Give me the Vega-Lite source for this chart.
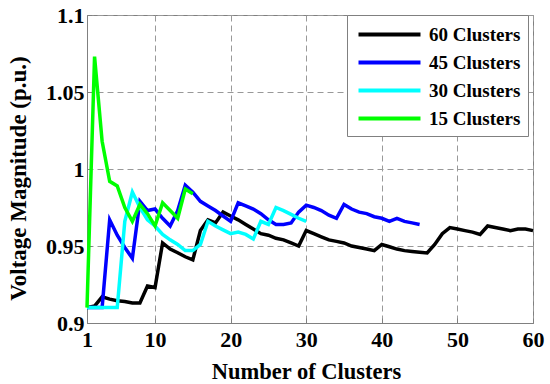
{
  "$schema": "https://vega.github.io/schema/vega-lite/v6.json",
  "autosize": {"type": "none"},
  "width": 446,
  "height": 308,
  "padding": {"left": 87, "top": 15, "right": 17, "bottom": 61},
  "background": "white",
  "config": {"view": {"stroke": "#808080", "strokeWidth": 1}, "font": "Liberation Serif"},
  "data": {"values": [
    {"x":1,"v":0.910,"s":"60 Clusters"},{"x":2,"v":0.911,"s":"60 Clusters"},{"x":3,"v":0.917,"s":"60 Clusters"},{"x":4,"v":0.9155,"s":"60 Clusters"},{"x":5,"v":0.9145,"s":"60 Clusters"},{"x":6,"v":0.914,"s":"60 Clusters"},{"x":7,"v":0.913,"s":"60 Clusters"},{"x":8,"v":0.913,"s":"60 Clusters"},{"x":9,"v":0.924,"s":"60 Clusters"},{"x":10,"v":0.923,"s":"60 Clusters"},
    {"x":11,"v":0.952,"s":"60 Clusters"},{"x":12,"v":0.948,"s":"60 Clusters"},{"x":13,"v":0.9456,"s":"60 Clusters"},{"x":14,"v":0.943,"s":"60 Clusters"},{"x":15,"v":0.941,"s":"60 Clusters"},{"x":16,"v":0.960,"s":"60 Clusters"},{"x":17,"v":0.967,"s":"60 Clusters"},{"x":18,"v":0.965,"s":"60 Clusters"},{"x":19,"v":0.972,"s":"60 Clusters"},{"x":20,"v":0.9695,"s":"60 Clusters"},
    {"x":21,"v":0.967,"s":"60 Clusters"},{"x":22,"v":0.964,"s":"60 Clusters"},{"x":23,"v":0.961,"s":"60 Clusters"},{"x":24,"v":0.958,"s":"60 Clusters"},{"x":25,"v":0.957,"s":"60 Clusters"},{"x":26,"v":0.955,"s":"60 Clusters"},{"x":27,"v":0.954,"s":"60 Clusters"},{"x":28,"v":0.952,"s":"60 Clusters"},{"x":29,"v":0.950,"s":"60 Clusters"},{"x":30,"v":0.960,"s":"60 Clusters"},
    {"x":31,"v":0.958,"s":"60 Clusters"},{"x":32,"v":0.956,"s":"60 Clusters"},{"x":33,"v":0.954,"s":"60 Clusters"},{"x":34,"v":0.953,"s":"60 Clusters"},{"x":35,"v":0.952,"s":"60 Clusters"},{"x":36,"v":0.950,"s":"60 Clusters"},{"x":37,"v":0.949,"s":"60 Clusters"},{"x":38,"v":0.948,"s":"60 Clusters"},{"x":39,"v":0.947,"s":"60 Clusters"},{"x":40,"v":0.951,"s":"60 Clusters"},
    {"x":41,"v":0.9495,"s":"60 Clusters"},{"x":42,"v":0.948,"s":"60 Clusters"},{"x":43,"v":0.947,"s":"60 Clusters"},{"x":44,"v":0.9465,"s":"60 Clusters"},{"x":45,"v":0.946,"s":"60 Clusters"},{"x":46,"v":0.9455,"s":"60 Clusters"},{"x":47,"v":0.951,"s":"60 Clusters"},{"x":48,"v":0.958,"s":"60 Clusters"},{"x":49,"v":0.962,"s":"60 Clusters"},{"x":50,"v":0.961,"s":"60 Clusters"},
    {"x":51,"v":0.960,"s":"60 Clusters"},{"x":52,"v":0.959,"s":"60 Clusters"},{"x":53,"v":0.9575,"s":"60 Clusters"},{"x":54,"v":0.963,"s":"60 Clusters"},{"x":55,"v":0.962,"s":"60 Clusters"},{"x":56,"v":0.961,"s":"60 Clusters"},{"x":57,"v":0.960,"s":"60 Clusters"},{"x":58,"v":0.961,"s":"60 Clusters"},{"x":59,"v":0.961,"s":"60 Clusters"},{"x":60,"v":0.960,"s":"60 Clusters"},
    {"x":1,"v":0.910,"s":"45 Clusters"},{"x":2,"v":0.910,"s":"45 Clusters"},{"x":3,"v":0.910,"s":"45 Clusters"},{"x":4,"v":0.967,"s":"45 Clusters"},{"x":5,"v":0.957,"s":"45 Clusters"},{"x":6,"v":0.949,"s":"45 Clusters"},{"x":7,"v":0.942,"s":"45 Clusters"},{"x":8,"v":0.979,"s":"45 Clusters"},{"x":9,"v":0.973,"s":"45 Clusters"},{"x":10,"v":0.974,"s":"45 Clusters"},
    {"x":11,"v":0.968,"s":"45 Clusters"},{"x":12,"v":0.963,"s":"45 Clusters"},{"x":13,"v":0.973,"s":"45 Clusters"},{"x":14,"v":0.9895,"s":"45 Clusters"},{"x":15,"v":0.985,"s":"45 Clusters"},{"x":16,"v":0.979,"s":"45 Clusters"},{"x":17,"v":0.976,"s":"45 Clusters"},{"x":18,"v":0.973,"s":"45 Clusters"},{"x":19,"v":0.9695,"s":"45 Clusters"},{"x":20,"v":0.966,"s":"45 Clusters"},
    {"x":21,"v":0.978,"s":"45 Clusters"},{"x":22,"v":0.976,"s":"45 Clusters"},{"x":23,"v":0.974,"s":"45 Clusters"},{"x":24,"v":0.971,"s":"45 Clusters"},{"x":25,"v":0.967,"s":"45 Clusters"},{"x":26,"v":0.964,"s":"45 Clusters"},{"x":27,"v":0.964,"s":"45 Clusters"},{"x":28,"v":0.965,"s":"45 Clusters"},{"x":29,"v":0.972,"s":"45 Clusters"},{"x":30,"v":0.9765,"s":"45 Clusters"},
    {"x":31,"v":0.975,"s":"45 Clusters"},{"x":32,"v":0.973,"s":"45 Clusters"},{"x":33,"v":0.970,"s":"45 Clusters"},{"x":34,"v":0.968,"s":"45 Clusters"},{"x":35,"v":0.977,"s":"45 Clusters"},{"x":36,"v":0.974,"s":"45 Clusters"},{"x":37,"v":0.972,"s":"45 Clusters"},{"x":38,"v":0.971,"s":"45 Clusters"},{"x":39,"v":0.969,"s":"45 Clusters"},{"x":40,"v":0.968,"s":"45 Clusters"},
    {"x":41,"v":0.966,"s":"45 Clusters"},{"x":42,"v":0.968,"s":"45 Clusters"},{"x":43,"v":0.966,"s":"45 Clusters"},{"x":44,"v":0.965,"s":"45 Clusters"},{"x":45,"v":0.964,"s":"45 Clusters"},
    {"x":1,"v":0.910,"s":"30 Clusters"},{"x":2,"v":0.910,"s":"30 Clusters"},{"x":3,"v":0.910,"s":"30 Clusters"},{"x":4,"v":0.910,"s":"30 Clusters"},{"x":5,"v":0.910,"s":"30 Clusters"},{"x":6,"v":0.966,"s":"30 Clusters"},{"x":7,"v":0.985,"s":"30 Clusters"},{"x":8,"v":0.975,"s":"30 Clusters"},{"x":9,"v":0.967,"s":"30 Clusters"},{"x":10,"v":0.963,"s":"30 Clusters"},
    {"x":11,"v":0.9575,"s":"30 Clusters"},{"x":12,"v":0.954,"s":"30 Clusters"},{"x":13,"v":0.951,"s":"30 Clusters"},{"x":14,"v":0.947,"s":"30 Clusters"},{"x":15,"v":0.947,"s":"30 Clusters"},{"x":16,"v":0.951,"s":"30 Clusters"},{"x":17,"v":0.966,"s":"30 Clusters"},{"x":18,"v":0.963,"s":"30 Clusters"},{"x":19,"v":0.9605,"s":"30 Clusters"},{"x":20,"v":0.958,"s":"30 Clusters"},
    {"x":21,"v":0.959,"s":"30 Clusters"},{"x":22,"v":0.9575,"s":"30 Clusters"},{"x":23,"v":0.9545,"s":"30 Clusters"},{"x":24,"v":0.966,"s":"30 Clusters"},{"x":25,"v":0.964,"s":"30 Clusters"},{"x":26,"v":0.975,"s":"30 Clusters"},{"x":27,"v":0.973,"s":"30 Clusters"},{"x":28,"v":0.9705,"s":"30 Clusters"},{"x":29,"v":0.968,"s":"30 Clusters"},{"x":30,"v":0.966,"s":"30 Clusters"},
    {"x":1,"v":0.910,"s":"15 Clusters"},{"x":2,"v":1.073,"s":"15 Clusters"},{"x":3,"v":1.018,"s":"15 Clusters"},{"x":4,"v":0.992,"s":"15 Clusters"},{"x":5,"v":0.989,"s":"15 Clusters"},{"x":6,"v":0.975,"s":"15 Clusters"},{"x":7,"v":0.966,"s":"15 Clusters"},{"x":8,"v":0.977,"s":"15 Clusters"},{"x":9,"v":0.971,"s":"15 Clusters"},{"x":10,"v":0.963,"s":"15 Clusters"},
    {"x":11,"v":0.978,"s":"15 Clusters"},{"x":12,"v":0.973,"s":"15 Clusters"},{"x":13,"v":0.968,"s":"15 Clusters"},{"x":14,"v":0.987,"s":"15 Clusters"},{"x":15,"v":0.984,"s":"15 Clusters"}
  ]},
  "encoding": {
    "x": {"field": "x", "type": "quantitative",
      "scale": {"domain": [1, 60], "nice": false, "zero": false},
      "axis": {"title": "Number of Clusters", "values": [1, 10, 20, 30, 40, 50, 60],
        "labelFont": "Liberation Serif", "labelFontSize": 22, "labelFontWeight": "bold", "labelColor": "black",
        "labelPadding": 11, "labelFlush": false, "labelOverlap": false,
        "titleFont": "Liberation Serif", "titleFontSize": 22.5, "titleFontWeight": "bold", "titleColor": "black",
        "titleX": 219, "titleY": 55, "titleBaseline": "alphabetic",
        "grid": true, "gridDash": [6, 4], "gridColor": "#999999", "gridOpacity": 1,
        "domainColor": "#808080", "tickColor": "#808080", "tickSize": -5}},
    "y": {"field": "v", "type": "quantitative",
      "scale": {"domain": [0.9, 1.1], "nice": false, "zero": false},
      "axis": {"title": "Voltage Magnitude (p.u.)", "values": [0.9, 0.95, 1, 1.05, 1.1], "format": "~g",
        "labelFont": "Liberation Serif", "labelFontSize": 22, "labelFontWeight": "bold", "labelColor": "black",
        "labelPadding": 8, "labelFlush": false, "labelOverlap": false,
        "titleFont": "Liberation Serif", "titleFontSize": 23, "titleFontWeight": "bold", "titleColor": "black",
        "titleX": -62, "titleY": 163, "titleAngle": -90, "titleBaseline": "alphabetic",
        "grid": true, "gridDash": [6, 4], "gridColor": "#999999", "gridOpacity": 1,
        "domainColor": "#808080", "tickColor": "#808080", "tickSize": -5}},
    "color": {"field": "s", "type": "nominal",
      "scale": {"domain": ["60 Clusters", "45 Clusters", "30 Clusters", "15 Clusters"],
                "range": ["#000000", "#0000ff", "#00ffff", "#00ff00"]},
      "legend": {"orient": "none", "legendX": 260, "legendY": 0, "title": null,
        "symbolType": "M-3,0H3", "symbolSize": 427, "symbolStrokeWidth": 4, "symbolOffset": 23,
        "labelFont": "Liberation Serif", "labelFontSize": 19, "labelFontWeight": "bold", "labelColor": "black",
        "labelOffset": 27, "rowPadding": 5, "padding": 7, "labelLimit": 300,
        "strokeColor": "#808080", "fillColor": "white", "cornerRadius": 0}}
  },
  "layer": [
    {"transform": [{"filter": "datum.s === '60 Clusters'"}], "mark": {"type": "line", "strokeWidth": 3.5}},
    {"transform": [{"filter": "datum.s === '45 Clusters'"}], "mark": {"type": "line", "strokeWidth": 3.5}},
    {"transform": [{"filter": "datum.s === '30 Clusters'"}], "mark": {"type": "line", "strokeWidth": 3.5}},
    {"transform": [{"filter": "datum.s === '15 Clusters'"}], "mark": {"type": "line", "strokeWidth": 3.5}}
  ]
}
